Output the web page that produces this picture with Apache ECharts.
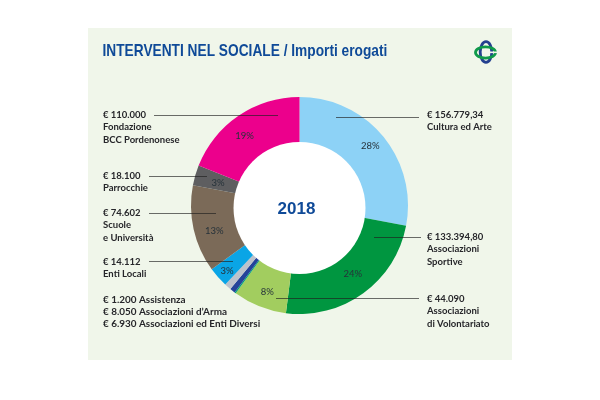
<!DOCTYPE html>
<html><head><meta charset="utf-8">
<script src="https://cdn.jsdelivr.net/npm/echarts@6/dist/echarts.min.js"></script>
<style>html,body{margin:0;padding:0;background:#fff}#c{width:600px;height:400px}</style>
</head><body><div id="c"></div>
<script>
const categories = ['Cultura ed Arte','Associazioni Sportive','Associazioni di Volontariato','Assistenza','Associazioni ed Enti Diversi',"Associazioni d’Arma",'Enti Locali','Scuole e Università','Parrocchie','Fondazione BCC Pordenonese'];
// slice shares as drawn in the picture (percent, clockwise from 12 o'clock)
const shares = [28,24,8,0.2,0.8,1,3,13,3,19];
const percentLabels = ['28%','24%','8%','','','','3%','13%','3%','19%'];
const colors = ['#8dd2f6','#009640','#a2cd5f','#00a07a','#24439a','#bcc2cc','#0aa5e6','#7b6a58','#5e5e60','#ec008c'];
const titleText = 'INTERVENTI NEL SOCIALE / Importi erogati';
const yearText = '2018';
const leftNotes = [
 ['€ 110.000','Fondazione','BCC Pordenonese'],
 ['€ 18.100','Parrocchie'],
 ['€ 74.602','Scuole','e Università'],
 ['€ 14.112','Enti Locali'],
 ['€ 1.200 Assistenza','€ 8.050 Associazioni d’Arma','€ 6.930 Associazioni ed Enti Diversi']
];
const rightNotes = [
 ['€ 156.779,34','Cultura ed Arte'],
 ['€ 133.394,80','Associazioni','Sportive'],
 ['€ 44.090','Associazioni','di Volontariato']
];

const titleFont = '"Liberation Sans",sans-serif';
const noteFont = 'Lato, "Noto Sans", sans-serif';
const leftY = [115,176,213,262,299.5];
const rightY = [115,237,299];
const leaders = [[154,278,115.5],[149,207,176.5],[149,216,213.5],[149,233,261.5],[336,419,117.5],[374,421,237.5],[276,419,298.5]];
const labelOffsets = [[3.6,-3.8],[2,-1.7],[0,5],[0,0],[0,0],[0,0],[-7,8],[0,6],[2.4,2],[-6,3]];

const panel = '#f0f6ea';
const g = [];
g.push({type:'rect',z:0,shape:{x:88,y:28,width:424,height:332},style:{fill:panel}});
g.push({type:'circle',z:3,shape:{cx:299.5,cy:208,r:66},style:{fill:'#ffffff'}});
function note(lines,x,y0,sx){
  lines.forEach((t,i)=>g.push({type:'text',z:100,x:x,y:y0+i*12.3,scaleX:sx||1,style:{text:t,font:'bold 9.5px '+noteFont,fill:'#26262a',verticalAlign:'middle'}}));
}
leftNotes.forEach((l,i)=>note(l,103,leftY[i],i===4?1.045:1));
rightNotes.forEach((l,i)=>note(l,427,rightY[i]));
leaders.forEach(l=>g.push({type:'line',z:100,shape:{x1:l[0],y1:l[2],x2:l[1],y2:l[2]},style:{stroke:'rgba(30,30,30,0.65)',lineWidth:1}}));
g.push({type:'text',z:100,x:102.5,y:51.5,scaleX:0.807,style:{text:titleText,font:'bold 17px '+titleFont,fill:'#0f4a98',verticalAlign:'middle'}});
g.push({type:'text',z:100,x:296.5,y:209,style:{text:yearText,font:'bold 17px '+titleFont,fill:'#0f4a98',align:'center',verticalAlign:'middle'}});
// logo
g.push({type:'ellipse',z:100,shape:{cx:486,cy:52,rx:5.8,ry:10.3},style:{stroke:'#23408f',lineWidth:2.8,fill:null}});
g.push({type:'ellipse',z:101,shape:{cx:485.5,cy:52.5,rx:10,ry:5.6},style:{stroke:'#0f9a4a',lineWidth:2.8,fill:null}});
g.push({type:'rect',z:102,shape:{x:489,y:51.5,width:10,height:1.6},style:{fill:panel}});

const chart = echarts.init(document.getElementById('c'),null,{renderer:'canvas'});
chart.setOption({
  animation:false,
  backgroundColor:'#ffffff',
  graphic:g,
  series:[{
    type:'pie',center:[299.5,205.5],radius:[60,108.5],startAngle:90,clockwise:true,
    avoidLabelOverlap:false,silent:true,
    itemStyle:{borderWidth:0},
    labelLine:{show:false},
    data:categories.map((n,i)=>({name:n,value:shares[i],itemStyle:{color:colors[i]},
      label:{show:percentLabels[i]!=='',position:'inside',formatter:percentLabels[i],offset:labelOffsets[i],
             fontSize:9.5,fontFamily:noteFont,color:'#26323a'}}))
  }]
});
</script></body></html>
